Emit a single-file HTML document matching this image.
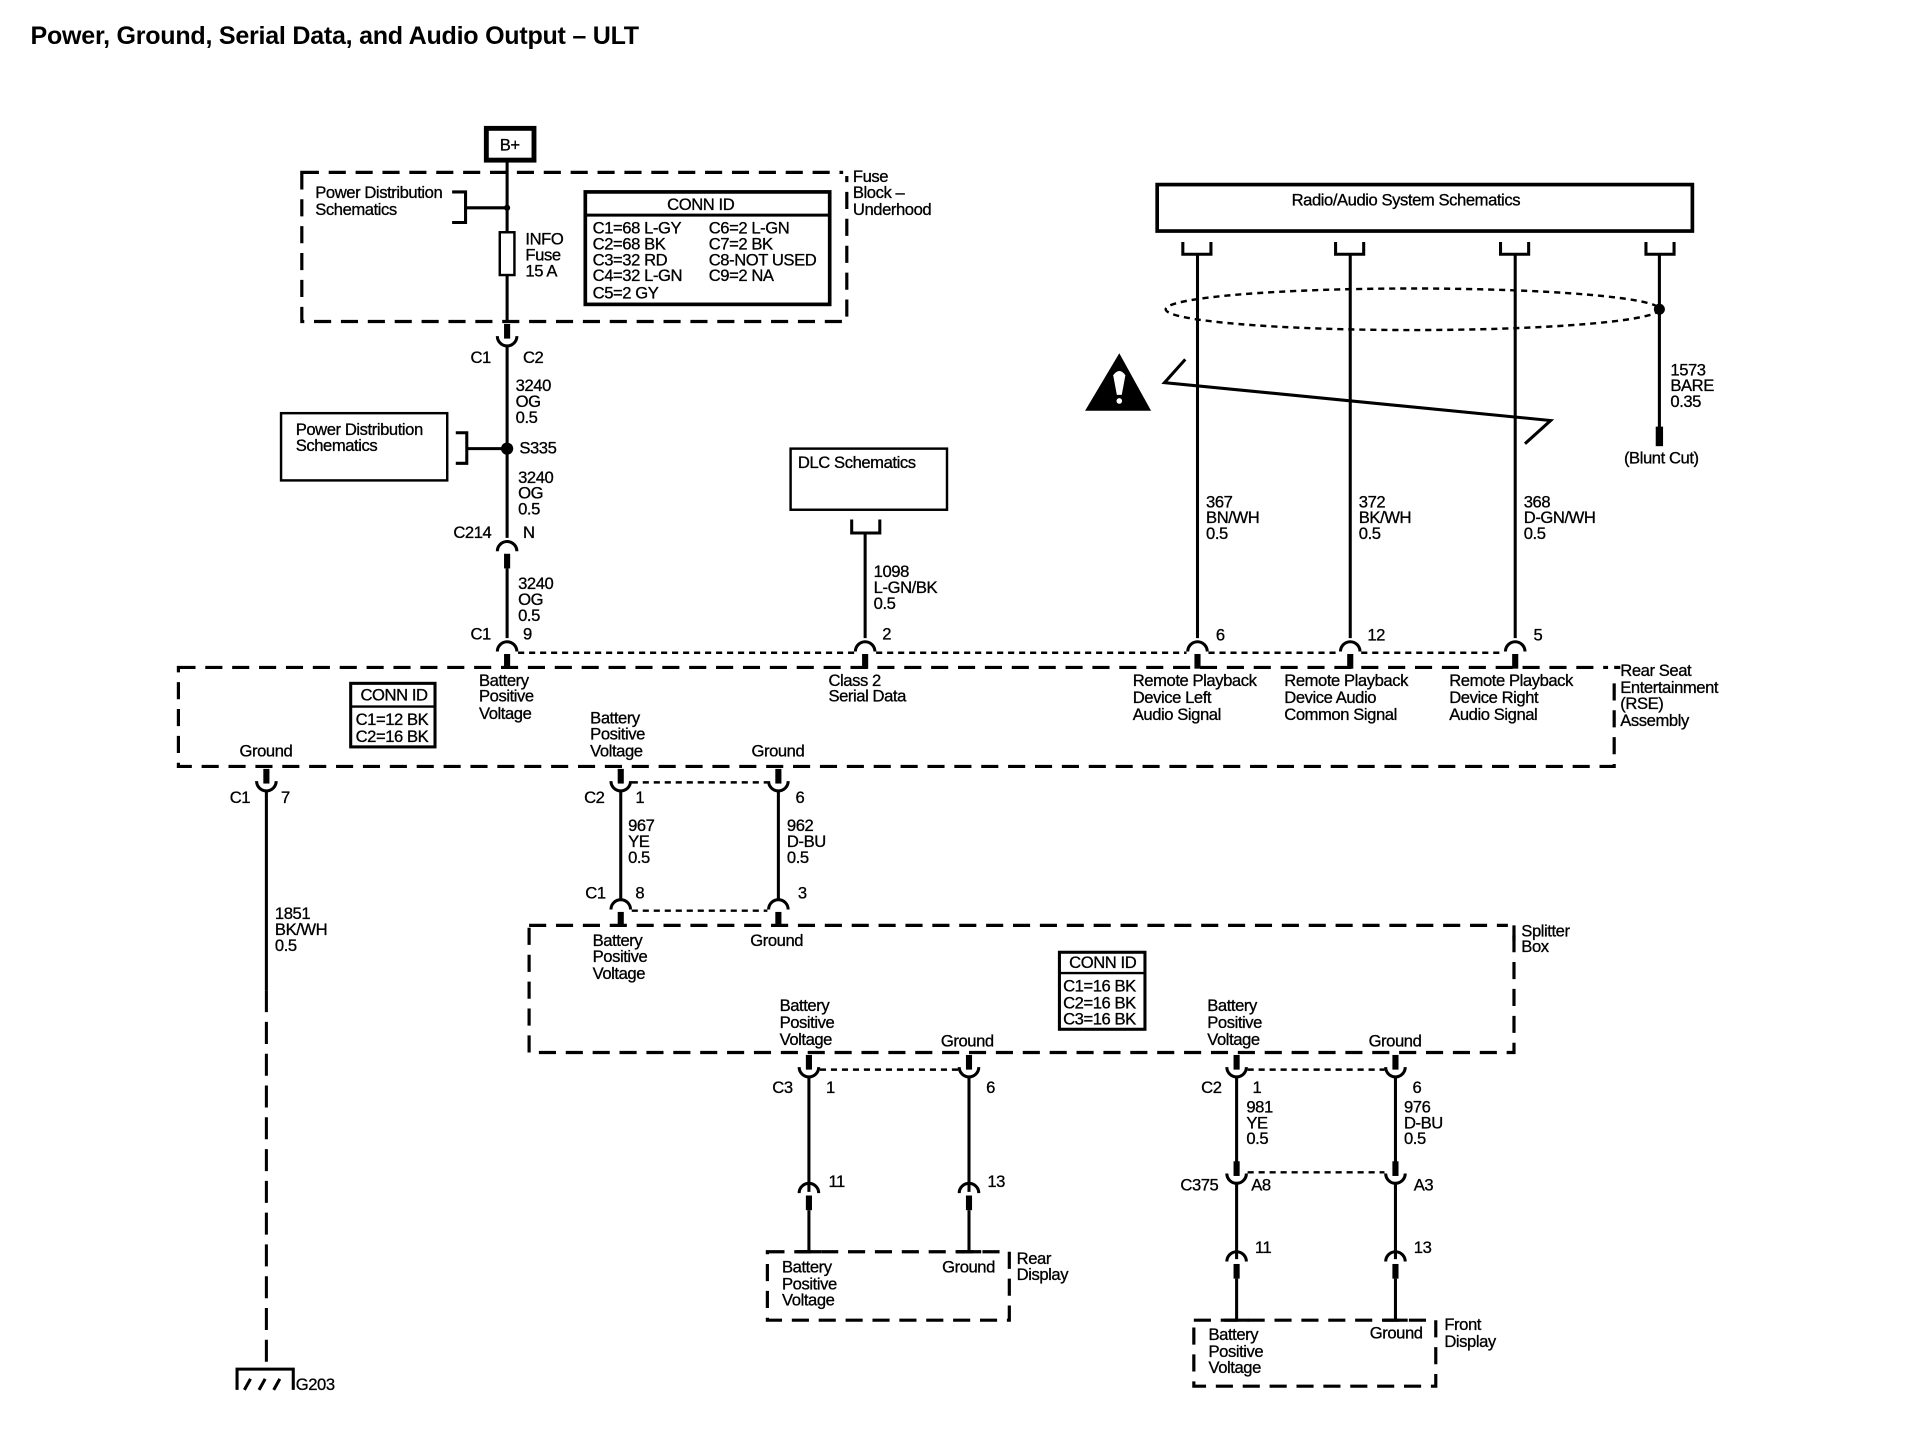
<!DOCTYPE html>
<html><head><meta charset="utf-8"><style>
html,body{margin:0;padding:0;background:#fff;}
svg{display:block;}
text{font-family:"Liberation Sans",sans-serif;font-size:13.6px;fill:#000;stroke:#000;stroke-width:0.25px;letter-spacing:-0.35px;}
.w{stroke:#000;stroke-width:2.5;fill:none;}
.d{stroke:#000;stroke-width:2.6;fill:none;stroke-dasharray:14 8;}
.dt{stroke:#000;stroke-width:2;fill:none;stroke-dasharray:5 4;}
.b{stroke:#000;stroke-width:2.5;fill:none;}
</style></head><body>
<svg width="1916" height="1440" viewBox="0 0 1568 1178" preserveAspectRatio="none">
<defs>
<g id="cup"><rect x="-2.5" y="-12" width="5" height="12" fill="#000"/><path d="M-8,-2 A8,8 0 0 0 8,-2" class="w"/></g>
<g id="cap"><rect x="-2.5" y="2" width="5" height="12" fill="#000"/><path d="M-8,0 A8,8 0 0 1 8,0" class="w"/></g>
</defs>
<text x="25" y="36" style="font-size:20.5px;font-weight:bold;letter-spacing:-0.2px;stroke-width:0">Power, Ground, Serial Data, and Audio Output – ULT</text>

<!-- B+ -->
<rect x="398" y="105" width="39" height="26" fill="none" stroke="#000" stroke-width="4"/>
<text x="409" y="123">B+</text>
<!-- Fuse block -->
<rect x="247" y="141" width="446" height="122" class="d"/>
<rect x="690" y="138" width="10" height="6" fill="#fff"/>
<text x="698" y="149">Fuse</text><text x="698" y="162">Block –</text><text x="698" y="176">Underhood</text>
<line x1="415" y1="131" x2="415" y2="190" class="w"/>
<line x1="415" y1="225" x2="415" y2="263" class="w"/>
<rect x="409" y="190" width="12" height="35" fill="#fff" stroke="#000" stroke-width="2"/>
<text x="430" y="200">INFO</text><text x="430" y="213">Fuse</text><text x="430" y="226">15 A</text>
<text x="258" y="162">Power Distribution</text><text x="258" y="176">Schematics</text>
<path d="M370,157 H381 V182 H370 M381,170 H415" class="b"/>
<circle cx="415" cy="170" r="2.5"/>
<rect x="479" y="157" width="200" height="92" fill="none" stroke="#000" stroke-width="3"/>
<line x1="479" y1="176" x2="679" y2="176" stroke="#000" stroke-width="2.5"/>
<text x="546" y="172">CONN ID</text>
<text x="485" y="191">C1=68 L-GY</text><text x="580" y="191">C6=2 L-GN</text>
<text x="485" y="204">C2=68 BK</text><text x="580" y="204">C7=2 BK</text>
<text x="485" y="217">C3=32 RD</text><text x="580" y="217">C8-NOT USED</text>
<text x="485" y="230">C4=32 L-GN</text><text x="580" y="230">C9=2 NA</text>
<text x="485" y="244">C5=2 GY</text>
<use href="#cup" x="415" y="277"/>
<text x="385" y="297">C1</text><text x="428" y="297">C2</text>
<line x1="415" y1="283" x2="415" y2="440" class="w"/>
<text x="422" y="320">3240</text><text x="422" y="333">OG</text><text x="422" y="346">0.5</text>
<rect x="230" y="338" width="136" height="55" fill="none" stroke="#000" stroke-width="2"/>
<text x="242" y="356">Power Distribution</text><text x="242" y="369">Schematics</text>
<path d="M373,354 H382 V379 H373 M382,367 H415" class="b"/>
<circle cx="415" cy="367" r="5"/>
<text x="425" y="371">S335</text>
<text x="424" y="395">3240</text><text x="424" y="408">OG</text><text x="424" y="421">0.5</text>
<text x="371" y="440">C214</text><text x="428" y="440">N</text>
<use href="#cap" x="415" y="451"/>
<line x1="415" y1="465" x2="415" y2="522" class="w"/>
<text x="424" y="482">3240</text><text x="424" y="495">OG</text><text x="424" y="508">0.5</text>
<text x="385" y="523">C1</text><text x="428" y="523">9</text>
<use href="#cap" x="415" y="533"/>

<!-- DLC -->
<rect x="647" y="367" width="128" height="50" fill="none" stroke="#000" stroke-width="2"/>
<text x="653" y="383">DLC Schematics</text>
<path d="M697,425 V436 H720 V425 M708,436 V522" class="b"/>
<text x="715" y="472">1098</text><text x="715" y="485">L-GN/BK</text><text x="715" y="498">0.5</text>
<text x="722" y="523">2</text>
<use href="#cap" x="708" y="533"/>

<!-- Radio -->
<rect x="947" y="151" width="438" height="38" fill="none" stroke="#000" stroke-width="3"/>
<text x="1057" y="168">Radio/Audio System Schematics</text>
<g class="b">
<path d="M968,198 V208 H991 V198"/><path d="M1093,198 V208 H1116 V198"/><path d="M1228,198 V208 H1251 V198"/><path d="M1347,198 V208 H1370 V198"/>
</g>
<line x1="980" y1="208" x2="980" y2="522" class="w"/>
<line x1="1105" y1="208" x2="1105" y2="522" class="w"/>
<line x1="1240" y1="208" x2="1240" y2="522" class="w"/>
<line x1="1358" y1="208" x2="1358" y2="350" class="w"/>
<rect x="1355" y="349" width="6" height="16" fill="#000"/>
<ellipse cx="1156" cy="253" rx="202" ry="17" class="dt"/>
<circle cx="1358" cy="253" r="4.5"/>
<text x="1367" y="307">1573</text><text x="1367" y="320">BARE</text><text x="1367" y="333">0.35</text>
<text x="1329" y="379">(Blunt Cut)</text>
<path d="M970,294 L953,313 L1269,344 L1248,363" class="w"/>
<polygon points="916,289 888,336 942,336" fill="#000"/>
<path d="M911,307 Q916,300 921,307 L918,323 L914,323 Z" fill="#fff"/>
<circle cx="916" cy="328" r="2.3" fill="#fff"/>
<text x="987" y="415">367</text><text x="987" y="428">BN/WH</text><text x="987" y="441">0.5</text>
<text x="1112" y="415">372</text><text x="1112" y="428">BK/WH</text><text x="1112" y="441">0.5</text>
<text x="1247" y="415">368</text><text x="1247" y="428">D-GN/WH</text><text x="1247" y="441">0.5</text>
<text x="995" y="524">6</text><text x="1119" y="524">12</text><text x="1255" y="524">5</text>
<use href="#cap" x="980" y="533"/><use href="#cap" x="1105" y="533"/><use href="#cap" x="1240" y="533"/>
<line x1="424" y1="534" x2="699" y2="534" class="dt"/>
<line x1="717" y1="534" x2="971" y2="534" class="dt"/>
<line x1="989" y1="534" x2="1096" y2="534" class="dt"/>
<line x1="1114" y1="534" x2="1231" y2="534" class="dt"/>

<!-- RSE -->
<rect x="146" y="546" width="1175" height="81" class="d"/>
<rect x="1316" y="540" width="10" height="14" fill="#fff"/>
<line x1="1321" y1="546" x2="1326" y2="546" stroke="#000" stroke-width="2.6"/>
<text x="1326" y="553">Rear Seat</text><text x="1326" y="567">Entertainment</text><text x="1326" y="580">(RSE)</text><text x="1326" y="594">Assembly</text>
<text x="392" y="561">Battery</text><text x="392" y="574">Positive</text><text x="392" y="588">Voltage</text>
<text x="678" y="561">Class 2</text><text x="678" y="574">Serial Data</text>
<text x="927" y="561">Remote Playback</text><text x="927" y="575">Device Left</text><text x="927" y="589">Audio Signal</text>
<text x="1051" y="561">Remote Playback</text><text x="1051" y="575">Device Audio</text><text x="1051" y="589">Common Signal</text>
<text x="1186" y="561">Remote Playback</text><text x="1186" y="575">Device Right</text><text x="1186" y="589">Audio Signal</text>
<rect x="287" y="559" width="69" height="52" fill="none" stroke="#000" stroke-width="2.5"/>
<line x1="287" y1="578" x2="356" y2="578" stroke="#000" stroke-width="2"/>
<text x="295" y="573">CONN ID</text><text x="291" y="593">C1=12 BK</text><text x="291" y="607">C2=16 BK</text>
<text x="196" y="619">Ground</text>
<text x="483" y="592">Battery</text><text x="483" y="605">Positive</text><text x="483" y="619">Voltage</text>
<text x="615" y="619">Ground</text>

<!-- ground wire -->
<use href="#cup" x="218" y="641"/>
<text x="188" y="657">C1</text><text x="230" y="657">7</text>
<line x1="218" y1="647" x2="218" y2="810" class="w"/>
<line x1="218" y1="810" x2="218" y2="1115" stroke="#000" stroke-width="2.5" stroke-dasharray="18 8"/>
<text x="225" y="752">1851</text><text x="225" y="765">BK/WH</text><text x="225" y="778">0.5</text>
<path d="M194,1137 V1120 H240 V1137" class="b"/>
<path d="M200,1137 L205,1128 M212,1137 L217,1128 M224,1137 L229,1128" class="b" stroke-width="2"/>
<text x="242" y="1137">G203</text>

<!-- RSE to splitter -->
<use href="#cup" x="508" y="641"/><use href="#cup" x="637" y="641"/>
<line x1="517" y1="640" x2="628" y2="640" class="dt"/>
<text x="478" y="657">C2</text><text x="520" y="657">1</text><text x="651" y="657">6</text>
<line x1="508" y1="647" x2="508" y2="735" class="w"/><line x1="637" y1="647" x2="637" y2="735" class="w"/>
<text x="514" y="680">967</text><text x="514" y="693">YE</text><text x="514" y="706">0.5</text>
<text x="644" y="680">962</text><text x="644" y="693">D-BU</text><text x="644" y="706">0.5</text>
<text x="479" y="735">C1</text><text x="520" y="735">8</text><text x="653" y="735">3</text>
<use href="#cap" x="508" y="744"/><use href="#cap" x="637" y="744"/>
<line x1="517" y1="745" x2="628" y2="745" class="dt"/>

<!-- splitter box -->
<rect x="433" y="757" width="806" height="104" class="d"/>
<rect x="1234" y="751" width="10" height="12" fill="#fff"/>
<line x1="1239" y1="757" x2="1239" y2="770" stroke="#000" stroke-width="2.6"/>
<text x="1245" y="766">Splitter</text><text x="1245" y="779">Box</text>
<text x="485" y="774">Battery</text><text x="485" y="787">Positive</text><text x="485" y="801">Voltage</text>
<text x="614" y="774">Ground</text>
<rect x="867" y="779" width="70" height="63" fill="none" stroke="#000" stroke-width="2.5"/>
<line x1="867" y1="796" x2="937" y2="796" stroke="#000" stroke-width="2"/>
<text x="875" y="792">CONN ID</text><text x="870" y="811">C1=16 BK</text><text x="870" y="825">C2=16 BK</text><text x="870" y="838">C3=16 BK</text>
<text x="638" y="827">Battery</text><text x="638" y="841">Positive</text><text x="638" y="855">Voltage</text>
<text x="770" y="856">Ground</text>
<text x="988" y="827">Battery</text><text x="988" y="841">Positive</text><text x="988" y="855">Voltage</text>
<text x="1120" y="856">Ground</text>

<!-- rear display -->
<use href="#cup" x="662" y="875"/><use href="#cup" x="793" y="875"/>
<line x1="671" y1="875" x2="784" y2="875" class="dt"/>
<text x="632" y="894">C3</text><text x="676" y="894">1</text><text x="807" y="894">6</text>
<line x1="662" y1="881" x2="662" y2="975" class="w"/><line x1="793" y1="881" x2="793" y2="975" class="w"/>
<text x="678" y="971">11</text><text x="808" y="971">13</text>
<use href="#cap" x="662" y="976"/><use href="#cap" x="793" y="976"/>
<line x1="662" y1="990" x2="662" y2="1024" class="w"/><line x1="793" y1="990" x2="793" y2="1024" class="w"/>
<rect x="628" y="1024" width="198" height="56" class="d"/>
<line x1="652" y1="1024" x2="672" y2="1024" stroke="#000" stroke-width="2.6"/>
<line x1="783" y1="1024" x2="803" y2="1024" stroke="#000" stroke-width="2.6"/>
<text x="640" y="1041">Battery</text><text x="640" y="1055">Positive</text><text x="640" y="1068">Voltage</text>
<text x="771" y="1041">Ground</text>
<text x="832" y="1034">Rear</text><text x="832" y="1047">Display</text>

<!-- front display -->
<use href="#cup" x="1012" y="875"/><use href="#cup" x="1142" y="875"/>
<line x1="1021" y1="875" x2="1133" y2="875" class="dt"/>
<text x="983" y="894">C2</text><text x="1025" y="894">1</text><text x="1156" y="894">6</text>
<line x1="1012" y1="881" x2="1012" y2="960" class="w"/><line x1="1142" y1="881" x2="1142" y2="960" class="w"/>
<text x="1020" y="910">981</text><text x="1020" y="923">YE</text><text x="1020" y="936">0.5</text>
<text x="1149" y="910">976</text><text x="1149" y="923">D-BU</text><text x="1149" y="936">0.5</text>
<use href="#cup" x="1012" y="962"/><use href="#cup" x="1142" y="962"/>
<line x1="1021" y1="959" x2="1133" y2="959" class="dt"/>
<text x="966" y="974">C375</text><text x="1024" y="974">A8</text><text x="1157" y="974">A3</text>
<line x1="1012" y1="968" x2="1012" y2="1030" class="w"/><line x1="1142" y1="968" x2="1142" y2="1030" class="w"/>
<text x="1027" y="1025">11</text><text x="1157" y="1025">13</text>
<use href="#cap" x="1012" y="1032"/><use href="#cap" x="1142" y="1032"/>
<line x1="1012" y1="1046" x2="1012" y2="1080" class="w"/><line x1="1142" y1="1046" x2="1142" y2="1080" class="w"/>
<rect x="977" y="1080" width="198" height="54" class="d"/>
<line x1="1002" y1="1080" x2="1022" y2="1080" stroke="#000" stroke-width="2.6"/>
<line x1="1132" y1="1080" x2="1152" y2="1080" stroke="#000" stroke-width="2.6"/>
<text x="989" y="1096">Battery</text><text x="989" y="1110">Positive</text><text x="989" y="1123">Voltage</text>
<text x="1121" y="1095">Ground</text>
<text x="1182" y="1088">Front</text><text x="1182" y="1102">Display</text>
</svg>
</body></html>
